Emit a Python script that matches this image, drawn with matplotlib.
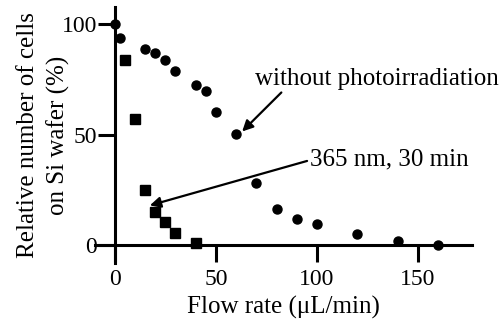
import matplotlib
matplotlib.use("Agg")
import matplotlib.pyplot as plt

plt.rcParams['font.family'] = ['Liberation Serif', 'DejaVu Serif']

# without photoirradiation (circles)
flow_dark = [0, 2.5, 15, 20, 25, 30, 40, 45, 50, 60, 70, 80, 90, 100, 120, 140, 160]
cells_dark = [100, 94, 89, 87, 84, 79, 72.5, 70, 60.5, 50.5, 28, 16.5, 12, 9.5, 5, 2, 0]

# 365 nm, 30 min (squares)
flow_uv = [5, 10, 15, 20, 25, 30, 40]
cells_uv = [84, 57, 25, 15, 10.5, 5.5, 1]

xticks = [0, 50, 100, 150]
yticks = [0, 50, 100]

fig = plt.figure(figsize=(5.02, 3.22), dpi=100)
ax = fig.add_axes([0.189, 0.1845, 0.751, 0.7925])

ax.plot(flow_dark, cells_dark, 'o', color='black', markersize=6.5, clip_on=False, zorder=3)
ax.plot(flow_uv, cells_uv, 's', color='black', markersize=7, clip_on=False, zorder=3)

ax.set_xlim(-9.9, 176.7)
ax.set_ylim(-7.9, 107.7)

for s in ['top', 'right']:
    ax.spines[s].set_visible(False)
ax.spines['left'].set_position(('data', 0))
ax.spines['bottom'].set_position(('data', 0))
for s in ['left', 'bottom']:
    ax.spines[s].set_linewidth(2.2)

ax.set_xticks(xticks)
ax.set_yticks(yticks)
ax.tick_params(axis='both', direction='out', length=12, width=2.2, labelsize=17, pad=1)
ax.tick_params(axis='x', pad=5)

ax.set_xlabel('Flow rate (\u03bcL/min)', fontsize=18)
ax.xaxis.set_label_coords(0.5, -0.13)
ax.set_ylabel('Relative number of cells\non Si wafer (%)', fontsize=18, linespacing=1.4)
ax.yaxis.set_label_coords(-0.066, 0.5)

ax.annotate('without photoirradiation', xy=(63, 51.5), xytext=(69.3, 75.4),
            fontsize=18, va='center', ha='left',
            arrowprops=dict(arrowstyle='-|>', color='black', lw=1.6, mutation_scale=16,
                            shrinkA=0, shrinkB=0,
                            relpos=(0.12, 0.0)))
ax.annotate('365 nm, 30 min', xy=(17.3, 18), xytext=(96.5, 39),
            fontsize=18, va='center', ha='left',
            arrowprops=dict(arrowstyle='-|>', color='black', lw=1.6, mutation_scale=16,
                            shrinkA=0, shrinkB=0, relpos=(0.0, 0.45)))

fig.savefig('out.png', dpi=100)
